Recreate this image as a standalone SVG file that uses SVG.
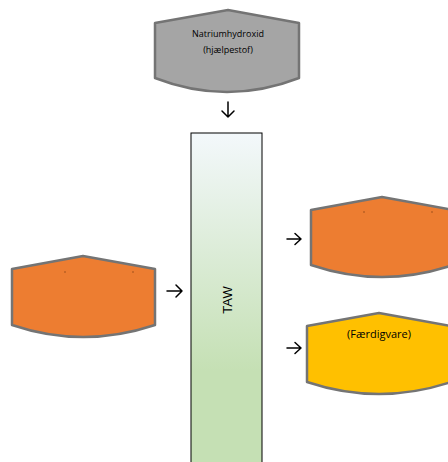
<svg xmlns="http://www.w3.org/2000/svg" width="448" height="462" viewBox="0 0 448 462">
  <style>
    .tank { stroke: #747474; stroke-width: 2.5; stroke-linejoin: round; }
    .arrow { fill: none; stroke: #000; stroke-width: 1.5; stroke-linecap: round; stroke-linejoin: round; }
    .lbl { font-family: "Open Sans", "Liberation Sans", sans-serif; fill: #000; text-anchor: middle; }
    .dot { fill: #5a2a0a; }
  </style>
  <defs>
    <linearGradient id="tawGrad" x1="0" y1="0" x2="0" y2="1">
      <stop offset="0" stop-color="#f3f8fb"/>
      <stop offset="0.7" stop-color="#c5e0b4"/>
      <stop offset="1" stop-color="#c5e0b4"/>
    </linearGradient>
  </defs>

  <g id="natriumhydroxid">
    <path class="tank" fill="#a5a5a5" d="M155,23 L228,10 L299,23 L299,78 Q227,106 155,78 Z"/>
    <text class="lbl" x="228" y="37" style="font-size:9px">Natriumhydroxid</text>
    <text class="lbl" x="228" y="53" style="font-size:9px">(hjælpestof)</text>
  </g>

  <g id="taw">
    <rect x="191" y="133" width="71" height="340" fill="url(#tawGrad)" stroke="#000" stroke-width="1"/>
    <text x="232" y="300" transform="rotate(-90 232 300)" font-family="Liberation Sans, Arial, sans-serif" font-size="13" text-anchor="middle">TAW</text>
  </g>

  <g id="input-tank">
    <path class="tank" fill="#ed7d31" d="M12,269 L83,256 L155,269 L155,325 Q83,349 12,325 Z"/>
    <rect class="dot" x="64.5" y="271.5" width="1" height="1"/>
    <rect class="dot" x="132.5" y="271.5" width="1" height="1"/>
  </g>

  <g id="output-tank">
    <path class="tank" fill="#ed7d31" d="M311,210 L382,197 L453,210 L453,265 Q382,289 311,265 Z"/>
    <rect class="dot" x="363.5" y="211.5" width="1" height="1"/>
    <rect class="dot" x="431.5" y="211.5" width="1" height="1"/>
  </g>

  <g id="faerdigvare">
    <path class="tank" fill="#ffc000" d="M307,326 L379,313 L451,326 L451,382 Q379,406 307,382 Z"/>
    <text class="lbl" x="379" y="338" style="font-size:11px">(Færdigvare)</text>
  </g>

  <g id="connectors">
    <path class="arrow" d="M228,102 V117 M222,111 L228,117 L234,111"/>
    <path class="arrow" d="M167,291 H182 M176,285 L182,291 L176,297"/>
    <path class="arrow" d="M287,239 H301 M295,233.5 L301,239 L295,244.5"/>
    <path class="arrow" d="M287,348 H301 M295,342.5 L301,348 L295,353.5"/>
  </g>
</svg>
